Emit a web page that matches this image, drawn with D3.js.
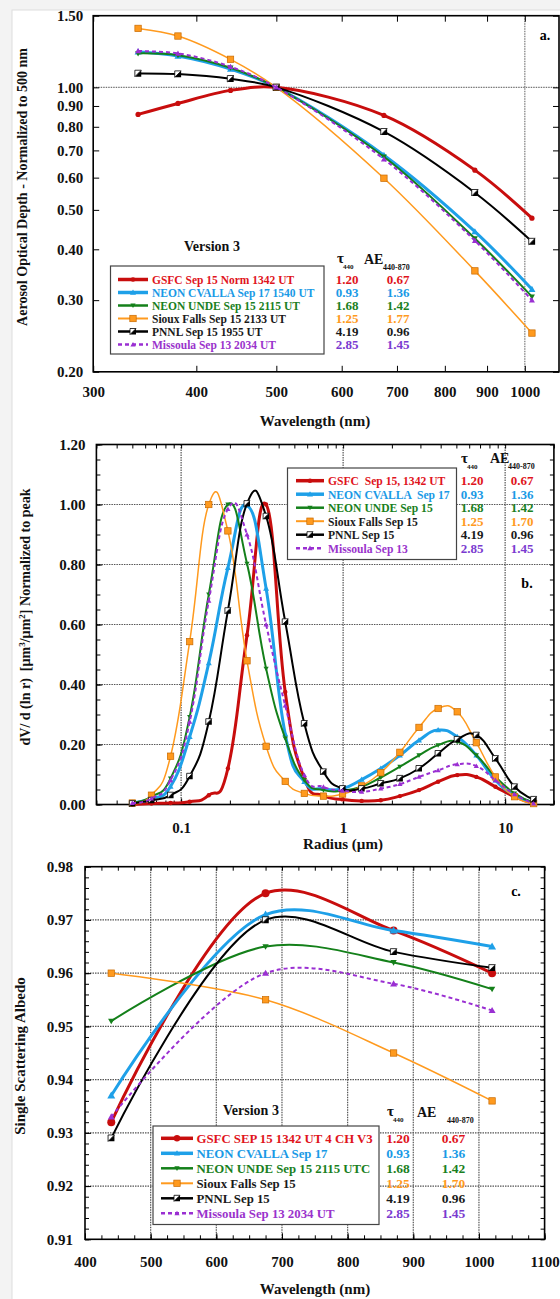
<!DOCTYPE html>
<html><head><meta charset="utf-8">
<script src="https://cdn.jsdelivr.net/npm/d3@7"></script>
<style>
body{margin:0;padding:0;background:#f3f3f3;}
svg text{font-family:"Liberation Serif","Times New Roman",serif;font-weight:bold;white-space:pre;}
</style></head>
<body>
<script>
// ---------- DATA ----------
const seriesNames = ["GSFC","NEON CVALLA","NEON UNDE","Sioux Falls","PNNL","Missoula"];
// Panel a: AOD normalized to 500 nm
const wavelengthsA = [340,380,440,500,675,870,1020];
const aodGSFC   = [0.858,0.913,0.983,1.0,0.853,0.626,0.477];
const aodCVALLA = [1.223,1.194,1.109,1.0,0.681,0.442,0.319];
const aodUNDE   = [1.212,1.200,1.117,1.0,0.675,0.425,0.306];
const aodSioux  = [1.396,1.337,1.172,1.0,0.598,0.354,0.249];
const aodPNNL   = [1.082,1.078,1.050,1.0,0.778,0.551,0.418];
const aodMiss   = [1.228,1.212,1.124,1.0,0.666,0.420,0.300];
const yTicksA = [0.2,0.3,0.4,0.5,0.6,0.7,0.8,0.9,1.0,1.5];
const xTicksA = [300,400,500,600,700,800,900,1000];
const legendA = ["GSFC Sep 15 Norm 1342 UT","NEON CVALLA Sep 17 1540 UT","NEON UNDE Sep 15 2115 UT","Sioux Falls Sep 15 2133 UT","PNNL Sep 15 1955 UT","Missoula Sep 13 2034 UT"];
const tau440 = ["1.20","0.93","1.68","1.25","4.19","2.85"];
const aeA = ["0.67","1.36","1.42","1.77","0.96","1.45"];
// Panel b: size distribution normalized to peak
const radii = [0.05,0.065604,0.086077,0.112939,0.148184,0.194429,0.255105,0.334716,0.439173,0.576227,0.756052,0.991996,1.301571,1.707757,2.240702,2.939966,3.857452,5.06126,6.640745,8.713145,11.432287,15.0];
const psdGSFC   = [0.0,0.003,0.005,0.009,0.031,0.12,0.564,1.0,0.375,0.087,0.03,0.017,0.012,0.014,0.028,0.048,0.076,0.098,0.092,0.059,0.026,0.003];
const psdCVALLA = [0.006,0.02,0.06,0.226,0.472,0.789,0.997,0.72,0.235,0.076,0.053,0.053,0.083,0.12,0.164,0.214,0.248,0.226,0.164,0.081,0.031,0.006];
const psdUNDE   = [0.006,0.026,0.087,0.292,0.70,1.0,0.803,0.453,0.22,0.081,0.048,0.046,0.059,0.09,0.126,0.164,0.198,0.209,0.164,0.092,0.037,0.006];
const psdSioux  = [0.005,0.031,0.161,0.543,1.0,0.912,0.479,0.194,0.077,0.037,0.028,0.035,0.062,0.106,0.174,0.257,0.32,0.309,0.206,0.092,0.026,0.003];
const psdPNNL   = [0.003,0.014,0.031,0.094,0.276,0.646,1.003,0.961,0.609,0.27,0.109,0.053,0.053,0.07,0.087,0.12,0.17,0.217,0.231,0.153,0.059,0.017];
const psdMiss   = [0.005,0.02,0.081,0.276,0.679,0.985,0.90,0.60,0.33,0.098,0.059,0.046,0.042,0.053,0.068,0.092,0.114,0.134,0.128,0.081,0.034,0.003];
const yTicksB = [0,0.2,0.4,0.6,0.8,1.0,1.2];
const xTicksB = [0.1,1,10];
const legendB = ["GSFC  Sep 15, 1342 UT","NEON CVALLA  Sep 17","NEON UNDE Sep 15","Sioux Falls Sep 15","PNNL Sep 15","Missoula Sep 13"];
const aeB = ["0.67","1.36","1.42","1.70","0.96","1.45"];
// Panel c: single scattering albedo
const wavelengthsC = [440,675,870,1020];
const ssaGSFC   = [0.932,0.975,0.968,0.960];
const ssaCVALLA = [0.937,0.971,0.968,0.965];
const ssaUNDE   = [0.951,0.965,0.962,0.957];
const ssaSioux  = [0.960,0.955,0.945,0.936];
const ssaPNNL   = [0.929,0.970,0.964,0.961];
const ssaMiss   = [0.933,0.960,0.958,0.953];
const yTicksC = [0.91,0.92,0.93,0.94,0.95,0.96,0.97,0.98];
const xTicksC = [400,500,600,700,800,900,1000,1100];
const legendC = ["GSFC SEP 15 1342 UT 4 CH V3","NEON CVALLA Sep 17","NEON UNDE Sep 15 2115 UTC","Sioux Falls Sep 15","PNNL Sep 15","Missoula Sep 13 2034 UT"];
const aeC = ["0.67","1.36","1.42","1.70","0.96","1.45"];

// ---------- STYLES ----------
const styles = [
  {color:"#c80d0d", text:"#e0141c", val:"#e0141c", w:3,   dash:null,  m:"circle"},
  {color:"#1ea0e8", text:"#1a9ae6", val:"#1a9ae6", w:3,   dash:null,  m:"tri"},
  {color:"#14801a", text:"#1a7f22", val:"#1a7f22", w:2,   dash:null,  m:"tridown"},
  {color:"#ff9a1e", text:"#1a1a1a", val:"#ff9a1e", w:1.5, dash:null,  m:"square"},
  {color:"#000000", text:"#1a1a1a", val:"#1a1a1a", w:2,   dash:null,  m:"half"},
  {color:"#9a2fd2", text:"#9a33cc", val:"#7a3ad0", w:2,   dash:"4,3", m:"ptri"}
];

const svg = d3.select("body").append("svg").attr("width",560).attr("height",1299);
svg.append("rect").attr("width",560).attr("height",1299).attr("fill","#f3f3f3");
svg.append("rect").attr("x",12).attr("y",10).attr("width",560).attr("height",1300).attr("fill","#fff").attr("stroke","#dedede");

function marker(g, type, x, y, color, s){
  if(type==="circle"){ g.append("circle").attr("cx",x).attr("cy",y).attr("r",s).attr("fill",color); }
  else if(type==="tri"||type==="ptri"){ g.append("path").attr("d",`M${x},${y-s}L${x+s},${y+s*0.75}L${x-s},${y+s*0.75}Z`).attr("fill",color); }
  else if(type==="tridown"){ g.append("path").attr("d",`M${x},${y+s}L${x+s},${y-s*0.75}L${x-s},${y-s*0.75}Z`).attr("fill",color); }
  else if(type==="square"){ g.append("rect").attr("x",x-s).attr("y",y-s).attr("width",2*s).attr("height",2*s).attr("fill",color).attr("stroke","#c86a00").attr("stroke-width",0.7); }
  else if(type==="half"){ g.append("path").attr("d",`M${x-s},${y+s}L${x+s},${y+s}L${x+s},${y-s}Z`).attr("fill","#000");
    g.append("path").attr("d",`M${x-s},${y+s}L${x-s},${y-s}L${x+s},${y-s}Z`).attr("fill","#fff").attr("stroke","#000").attr("stroke-width",0.8); }
}

function drawSeries(g, xs, ys, xS, yS, st, curve, ms){
  const pts = xs.map((d,i)=>[xS(d), yS(ys[i])]);
  g.append("path").attr("d", d3.line().curve(curve)(pts)).attr("fill","none")
    .attr("stroke",st.color).attr("stroke-width",st.w).attr("stroke-dasharray",st.dash);
  pts.forEach(p=>marker(g, st.m, p[0], p[1], st.color, ms[st.m]));
}

function styleAxis(ax, size){
  ax.select(".domain").remove();
  ax.selectAll("text").attr("font-size",size).attr("fill","#111");
  ax.selectAll("line").attr("stroke","#000").attr("stroke-width",1);
}

function legend(g, x0, y0, w, h, rows, labels, fontSize, sx0, sx1, tx, ms){
  g.append("rect").attr("x",x0).attr("y",y0).attr("width",w).attr("height",h).attr("fill","#fff").attr("stroke","#444").attr("stroke-width",1.2);
  labels.forEach((lab,i)=>{
    const st = styles[i], y = rows[i];
    g.append("line").attr("x1",sx0).attr("x2",sx1).attr("y1",y).attr("y2",y).attr("stroke",st.color).attr("stroke-width",st.w+0.5).attr("stroke-dasharray",st.dash);
    marker(g, st.m, (sx0+sx1)/2, y, st.color, ms[st.m]);
    g.append("text").attr("x",tx).attr("y",y+4.5).attr("font-size",fontSize).attr("fill",st.text).text(lab);
  });
}
function values(g, rows, col1, col2, ae, fontSize){
  rows.forEach((y,i)=>{
    g.append("text").attr("x",col1).attr("y",y+4.5).attr("text-anchor","middle").attr("font-size",fontSize).attr("fill",styles[i].val).text(tau440[i]);
    g.append("text").attr("x",col2).attr("y",y+4.5).attr("text-anchor","middle").attr("font-size",fontSize).attr("fill",styles[i].val).text(ae[i]);
  });
}
function header(g, tx, ty, ax, ay, subx, fs){
  g.append("text").attr("x",tx).attr("y",ty).attr("font-size",fs+1).attr("fill","#111").text("τ");
  g.append("text").attr("x",tx+6).attr("y",ty+6).attr("font-size",7).attr("fill","#111").text("440");
  g.append("text").attr("x",ax).attr("y",ay).attr("font-size",fs).attr("fill","#111").text("AE");
  g.append("text").attr("x",subx).attr("y",ay+6).attr("font-size",8).attr("fill","#111").text("440-870");
}

// ================= PANEL A =================
{
  const L=93.2,R=559,T=15.7,B=371.8;
  const x = d3.scaleLog().domain([300,1100]).range([L,R]);
  const y = d3.scaleLog().domain([0.2,1.5]).range([B,T]);
  const g = svg.append("g");
  g.append("line").attr("x1",x(1000)).attr("x2",x(1000)).attr("y1",T).attr("y2",B).attr("stroke","#777").attr("stroke-width",1.2).attr("stroke-dasharray","1.5,1");
  g.append("line").attr("x1",L).attr("x2",R).attr("y1",y(1)).attr("y2",y(1)).attr("stroke","#777").attr("stroke-width",1.2).attr("stroke-dasharray","1.5,1");
  const ab = g.append("g").attr("transform",`translate(0,${B})`).call(d3.axisBottom(x).tickValues(xTicksA).tickFormat(d3.format("d")).tickSize(-6).tickSizeOuter(0).tickPadding(15));
  styleAxis(ab,15);
  const at = g.append("g").attr("transform",`translate(0,${T})`).call(d3.axisTop(x).tickValues(xTicksA).tickFormat("").tickSize(-6).tickSizeOuter(0));
  styleAxis(at,15);
  const al = g.append("g").attr("transform",`translate(${L},0)`).call(d3.axisLeft(y).tickValues(yTicksA).tickFormat(d3.format(".2f")).tickSize(-6).tickSizeOuter(0).tickPadding(10));
  styleAxis(al,15);
  const ar = g.append("g").attr("transform",`translate(${R},0)`).call(d3.axisRight(y).tickValues(yTicksA).tickFormat("").tickSize(-6).tickSizeOuter(0));
  styleAxis(ar,15);
  g.append("rect").attr("x",L).attr("y",T).attr("width",R-L).attr("height",B-T).attr("fill","none").attr("stroke","#000").attr("stroke-width",1.6);
  const ms = {circle:2.6,tri:3.5,tridown:3,square:3.2,half:3.2,ptri:3};
  const data = [aodGSFC,aodCVALLA,aodUNDE,aodSioux,aodPNNL,aodMiss];
  [0,1,2,3,4,5].forEach(i=>drawSeries(g, wavelengthsA, data[i], x, y, styles[i], d3.curveCatmullRom, ms));
  g.append("text").attr("x",545).attr("y",40).attr("font-size",14).attr("text-anchor","middle").text("a.");
  g.append("text").attr("x",184).attr("y",251).attr("font-size",14).attr("fill","#111").text("Version 3");
  const rows=[279.5,292.5,305.5,318.5,331.5,344.5];
  legend(g,110.5,266,213.5,88,rows,legendA,11.5,118,148,152,{circle:2.3,tri:3,tridown:2.6,square:3.2,half:3,ptri:2.6});
  header(g,337,263,364,264,383,14);
  values(g,rows,347,398,aeA,13);
  g.append("text").attr("x",315).attr("y",426).attr("text-anchor","middle").attr("font-size",15).attr("fill","#111").text("Wavelength (nm)");
  g.append("text").attr("transform","translate(27,187) rotate(-90)").attr("text-anchor","middle").attr("font-size",14).attr("fill","#111").text("Aerosol Optical Depth - Normalized to 500 nm");
}

// ================= PANEL B =================
{
  const L=96.4,R=553.9,T=444.5,B=804.5;
  const x = d3.scaleLog().domain([0.03,20]).range([L,R]);
  const y = d3.scaleLinear().domain([0,1.2]).range([B,T]);
  const g = svg.append("g");
  xTicksB.forEach(v=>g.append("line").attr("x1",x(v)).attr("x2",x(v)).attr("y1",T).attr("y2",B).attr("stroke","#555").attr("stroke-width",1.2).attr("stroke-dasharray","1.5,1"));
  yTicksB.slice(1,6).forEach(v=>g.append("line").attr("x1",L).attr("x2",R).attr("y1",y(v)).attr("y2",y(v)).attr("stroke","#555").attr("stroke-width",1.2).attr("stroke-dasharray","1.5,1"));
  const minorX = [];
  [0.01,0.1,1,10].forEach(d=>{for(let k=1;k<10;k++){const v=k*d; if(v>=0.03&&v<=20) minorX.push(v);}});
  const minorY = d3.range(0,1.2001,0.05);
  const ab = g.append("g").attr("transform",`translate(0,${B})`).call(d3.axisBottom(x).tickValues(xTicksB).tickFormat(d3.format("")).tickSize(-6).tickSizeOuter(0).tickPadding(18));
  styleAxis(ab,15);
  [["axisBottom",B],["axisTop",T]].forEach(([fn,pos])=>{
    const a=g.append("g").attr("transform",`translate(0,${pos})`).call(d3[fn](x).tickValues(minorX).tickFormat("").tickSize(-4).tickSizeOuter(0)); styleAxis(a,15);});
  const al = g.append("g").attr("transform",`translate(${L},0)`).call(d3.axisLeft(y).tickValues(yTicksB).tickFormat(d3.format(".2f")).tickSize(-6).tickSizeOuter(0).tickPadding(11));
  styleAxis(al,15);
  [["axisLeft",L],["axisRight",R]].forEach(([fn,pos])=>{
    const a=g.append("g").attr("transform",`translate(${pos},0)`).call(d3[fn](y).tickValues(minorY).tickFormat("").tickSize(-4).tickSizeOuter(0)); styleAxis(a,15);});
  g.append("rect").attr("x",L).attr("y",T).attr("width",R-L).attr("height",B-T).attr("fill","none").attr("stroke","#000").attr("stroke-width",1.6);
  const ms = {circle:2.2,tri:3,tridown:2.6,square:3.2,half:3,ptri:2.6};
  const data = [psdGSFC,psdCVALLA,psdUNDE,psdSioux,psdPNNL,psdMiss];
  [0,1,2,3,4,5].forEach(i=>drawSeries(g, radii, data[i], x, y, styles[i], d3.curveCardinal.tension(-0.4), ms));
  g.append("text").attr("x",527).attr("y",588).attr("font-size",14).attr("text-anchor","middle").text("b.");
  const rows=[480.7,494.2,507.7,521.2,534.7,548.2];
  legend(g,287.5,468,169,91.5,rows,legendB,11.6,296,324,328,{circle:2.3,tri:3,tridown:2.6,square:3.2,half:3,ptri:2.6});
  header(g,461,463,490,463,508,14);
  values(g,rows,472,522,aeB,13);
  g.append("text").attr("x",343).attr("y",849).attr("text-anchor","middle").attr("font-size",15).attr("fill","#111").text("Radius (µm)");
  const t = g.append("text").attr("transform","translate(30,617) rotate(-90)").attr("text-anchor","middle").attr("font-size",14).attr("fill","#111");
  t.append("tspan").text("dV/ d (ln r)  [µm");
  t.append("tspan").attr("dy",-5).attr("font-size",9).text("3");
  t.append("tspan").attr("dy",5).text("/µm");
  t.append("tspan").attr("dy",-5).attr("font-size",9).text("2");
  t.append("tspan").attr("dy",5).text("] Normalized to peak");
}

// ================= PANEL C =================
{
  const L=85,R=544.6,T=866.7,B=1239.3;
  const x = d3.scaleLinear().domain([400,1100]).range([L,R]);
  const y = d3.scaleLinear().domain([0.91,0.98]).range([B,T]);
  const g = svg.append("g");
  xTicksC.slice(1,7).forEach(v=>g.append("line").attr("x1",x(v)).attr("x2",x(v)).attr("y1",T).attr("y2",B).attr("stroke","#555").attr("stroke-width",1.2).attr("stroke-dasharray","1.5,1"));
  yTicksC.slice(1,7).forEach(v=>g.append("line").attr("x1",L).attr("x2",R).attr("y1",y(v)).attr("y2",y(v)).attr("stroke","#555").attr("stroke-width",1.2).attr("stroke-dasharray","1.5,1"));
  const minorX = d3.range(400,1100.1,25);
  const minorY = d3.range(0.91,0.98001,0.002);
  const ab = g.append("g").attr("transform",`translate(0,${B})`).call(d3.axisBottom(x).tickValues(xTicksC).tickFormat(d3.format("d")).tickSize(-6).tickSizeOuter(0).tickPadding(17));
  styleAxis(ab,15);
  [["axisBottom",B],["axisTop",T]].forEach(([fn,pos])=>{
    const a=g.append("g").attr("transform",`translate(0,${pos})`).call(d3[fn](x).tickValues(minorX).tickFormat("").tickSize(-4).tickSizeOuter(0)); styleAxis(a,15);});
  const al = g.append("g").attr("transform",`translate(${L},0)`).call(d3.axisLeft(y).tickValues(yTicksC).tickFormat(d3.format(".2f")).tickSize(-6).tickSizeOuter(0).tickPadding(12));
  styleAxis(al,15);
  [["axisLeft",L],["axisRight",R]].forEach(([fn,pos])=>{
    const a=g.append("g").attr("transform",`translate(${pos},0)`).call(d3[fn](y).tickValues(minorY).tickFormat("").tickSize(-4).tickSizeOuter(0)); styleAxis(a,15);});
  g.append("rect").attr("x",L).attr("y",T).attr("width",R-L).attr("height",B-T).attr("fill","none").attr("stroke","#000").attr("stroke-width",1.6);
  const ms = {circle:4,tri:4,tridown:3.2,square:3.2,half:3.2,ptri:3.5};
  const data = [ssaGSFC,ssaCVALLA,ssaUNDE,ssaSioux,ssaPNNL,ssaMiss];
  [0,1,2,3,4,5].forEach(i=>drawSeries(g, wavelengthsC, data[i], x, y, styles[i], d3.curveCatmullRom, ms));
  g.append("text").attr("x",516).attr("y",896).attr("font-size",14).attr("text-anchor","middle").text("c.");
  g.append("text").attr("x",223).attr("y",1115).attr("font-size",14).attr("fill","#111").text("Version 3");
  const rows=[1138.3,1153.3,1168.3,1183.3,1198.3,1213.3];
  legend(g,153,1126,226,98.5,rows,legendC,12.8,161,193,196.5,{circle:3.2,tri:3,tridown:2.6,square:3.2,half:3,ptri:2.6});
  header(g,387,1116,417,1117,447,14);
  values(g,rows,398,453.5,aeC,13.5);
  g.append("text").attr("x",315).attr("y",1294).attr("text-anchor","middle").attr("font-size",15).attr("fill","#111").text("Wavelength (nm)");
  g.append("text").attr("transform","translate(25,1056) rotate(-90)").attr("text-anchor","middle").attr("font-size",15).attr("fill","#111").text("Single Scattering Albedo");
}
</script>
</body></html>
